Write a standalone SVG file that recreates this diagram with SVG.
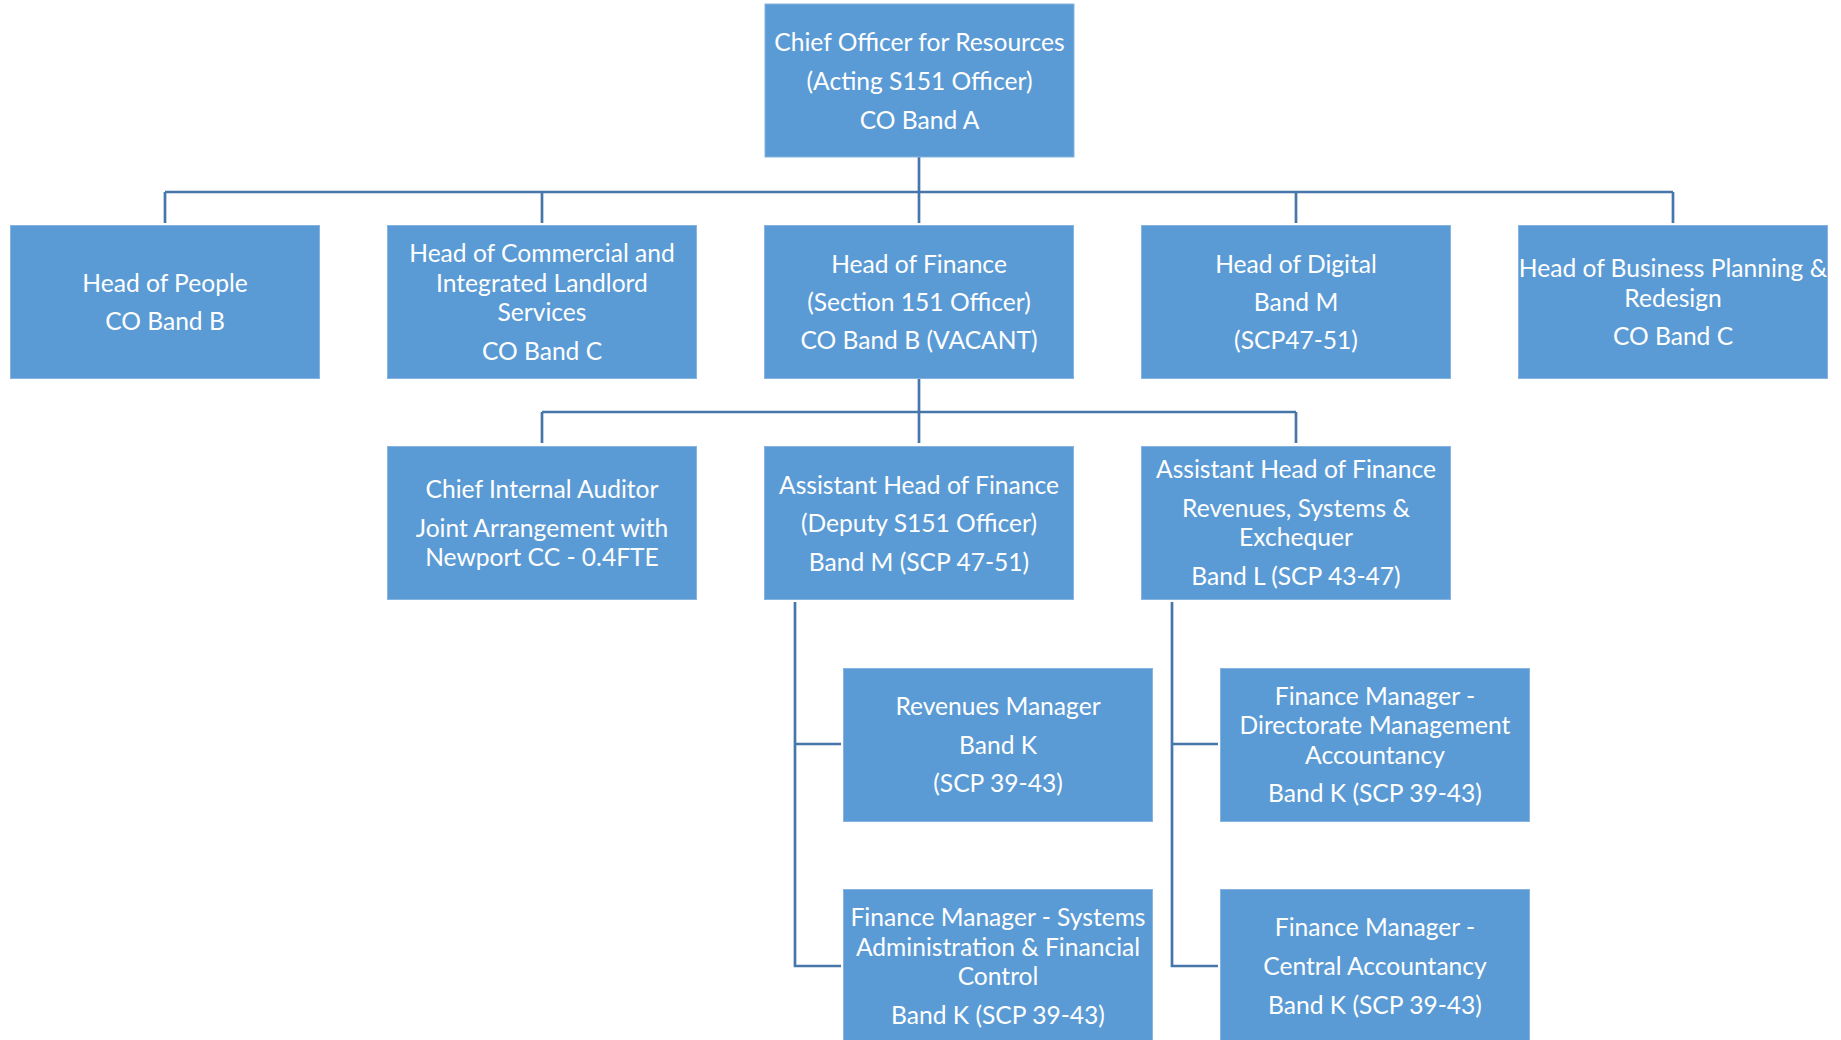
<svg xmlns="http://www.w3.org/2000/svg" width="1841" height="1040" viewBox="0 0 1841 1040">
  <style>
    .box { fill: #5b9bd5; stroke: #86b3e0; stroke-width: 1; }
    .lbl { font-family: Lato, "Open Sans", "Liberation Sans", sans-serif; font-size: 24.6px; fill: #ffffff; text-anchor: middle; }
    .wire { fill: none; stroke: #4676aa; stroke-width: 2.7; }
  </style>
  <rect width="1841" height="1040" fill="#ffffff"/>

  <!-- reporting lines -->
  <g id="connectors">
    <path class="wire" d="M919,157 V223"/>
    <path class="wire" d="M165,192 H1673"/>
    <path class="wire" d="M165,192 V223 M542,192 V223 M1296,192 V223 M1673,192 V223"/>
    <path class="wire" d="M919,378 V443"/>
    <path class="wire" d="M542,412 H1296"/>
    <path class="wire" d="M542,412 V443 M1296,412 V443"/>
    <path class="wire" d="M795,602 V966 H841 M795,744 H841"/>
    <path class="wire" d="M1172,602 V966 H1218 M1172,744 H1218"/>
  </g>

  <g id="chief-officer-resources">
    <rect class="box" x="765" y="4" width="309" height="153"/>
    <text class="lbl" x="919.5" y="51">Chief Officer for Resources</text>
    <text class="lbl" x="919.5" y="90">(Acting S151 Officer)</text>
    <text class="lbl" x="919.5" y="129">CO Band A</text>
  </g>

  <g id="head-of-people">
    <rect class="box" x="10.5" y="225.5" width="309" height="153"/>
    <text class="lbl" x="165" y="291.5">Head of People</text>
    <text class="lbl" x="165" y="330">CO Band B</text>
  </g>

  <g id="head-of-commercial">
    <rect class="box" x="387.5" y="225.5" width="309" height="153"/>
    <text class="lbl" x="542" y="262">Head of Commercial and</text>
    <text class="lbl" x="542" y="291.5">Integrated Landlord</text>
    <text class="lbl" x="542" y="321">Services</text>
    <text class="lbl" x="542" y="360">CO Band C</text>
  </g>

  <g id="head-of-finance">
    <rect class="box" x="764.5" y="225.5" width="309" height="153"/>
    <text class="lbl" x="919" y="273">Head of Finance</text>
    <text class="lbl" x="919" y="311">(Section 151 Officer)</text>
    <text class="lbl" x="919" y="349">CO Band B (VACANT)</text>
  </g>

  <g id="head-of-digital">
    <rect class="box" x="1141.5" y="225.5" width="309" height="153"/>
    <text class="lbl" x="1296" y="273">Head of Digital</text>
    <text class="lbl" x="1296" y="311">Band M</text>
    <text class="lbl" x="1296" y="349">(SCP47-51)</text>
  </g>

  <g id="head-of-business-planning">
    <rect class="box" x="1518.5" y="225.5" width="309" height="153"/>
    <text class="lbl" x="1673" y="277">Head of Business Planning &amp;</text>
    <text class="lbl" x="1673" y="306.5">Redesign</text>
    <text class="lbl" x="1673" y="344.5">CO Band C</text>
  </g>

  <g id="chief-internal-auditor">
    <rect class="box" x="387.5" y="446.5" width="309" height="153"/>
    <text class="lbl" x="542" y="498">Chief Internal Auditor</text>
    <text class="lbl" x="542" y="536.5">Joint Arrangement with</text>
    <text class="lbl" x="542" y="565.5">Newport CC - 0.4FTE</text>
  </g>

  <g id="assistant-head-deputy">
    <rect class="box" x="764.5" y="446.5" width="309" height="153"/>
    <text class="lbl" x="919" y="493.5">Assistant Head of Finance</text>
    <text class="lbl" x="919" y="532">(Deputy S151 Officer)</text>
    <text class="lbl" x="919" y="571">Band M (SCP 47-51)</text>
  </g>

  <g id="assistant-head-revenues">
    <rect class="box" x="1141.5" y="446.5" width="309" height="153"/>
    <text class="lbl" x="1296" y="478">Assistant Head of Finance</text>
    <text class="lbl" x="1296" y="516.5">Revenues, Systems &amp;</text>
    <text class="lbl" x="1296" y="546">Exchequer</text>
    <text class="lbl" x="1296" y="585">Band L (SCP 43-47)</text>
  </g>

  <g id="revenues-manager">
    <rect class="box" x="843.5" y="668.5" width="309" height="153"/>
    <text class="lbl" x="998" y="715">Revenues Manager</text>
    <text class="lbl" x="998" y="753.5">Band K</text>
    <text class="lbl" x="998" y="791.5">(SCP 39-43)</text>
  </g>

  <g id="finance-manager-directorate">
    <rect class="box" x="1220.5" y="668.5" width="309" height="153"/>
    <text class="lbl" x="1375" y="704.5">Finance Manager -</text>
    <text class="lbl" x="1375" y="734">Directorate Management</text>
    <text class="lbl" x="1375" y="763.5">Accountancy</text>
    <text class="lbl" x="1375" y="802">Band K (SCP 39-43)</text>
  </g>

  <g id="finance-manager-systems">
    <rect class="box" x="843.5" y="889.5" width="309" height="153"/>
    <text class="lbl" x="998" y="926">Finance Manager - Systems</text>
    <text class="lbl" x="998" y="955.5">Administration &amp; Financial</text>
    <text class="lbl" x="998" y="985">Control</text>
    <text class="lbl" x="998" y="1023.5">Band K (SCP 39-43)</text>
  </g>

  <g id="finance-manager-central">
    <rect class="box" x="1220.5" y="889.5" width="309" height="153"/>
    <text class="lbl" x="1375" y="936">Finance Manager -</text>
    <text class="lbl" x="1375" y="974.5">Central Accountancy</text>
    <text class="lbl" x="1375" y="1013.5">Band K (SCP 39-43)</text>
  </g>
</svg>
